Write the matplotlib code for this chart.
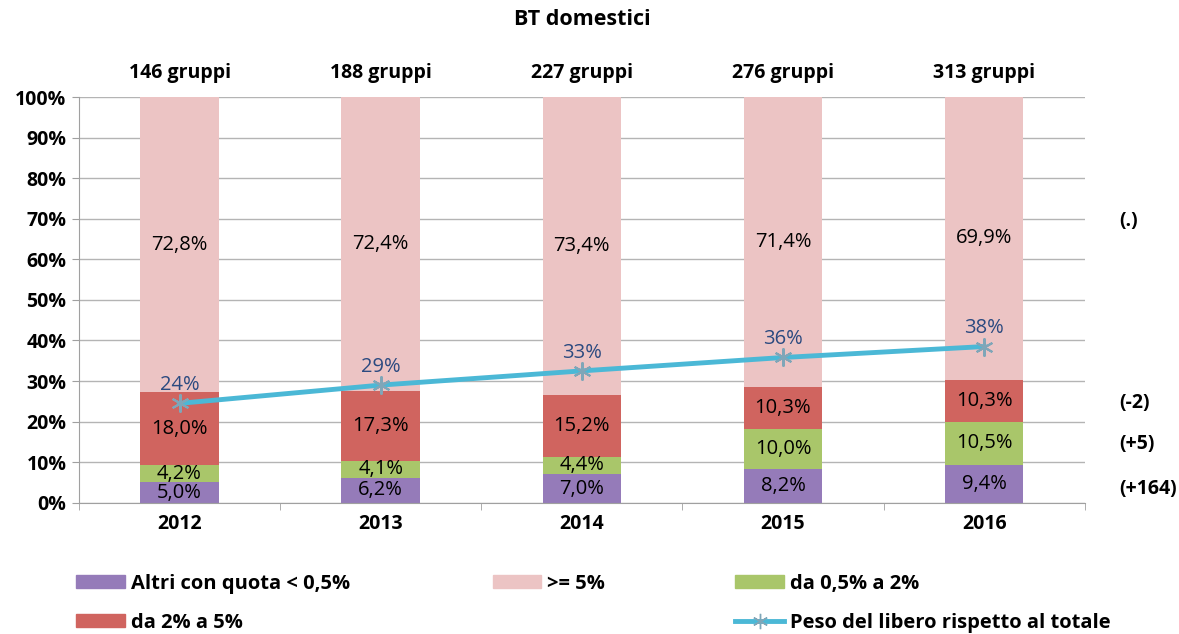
import matplotlib.pyplot as plt
import numpy as np
from matplotlib.lines import Line2D
from matplotlib.patches import Patch
import matplotlib.transforms as mtransforms

plt.rcParams['font.family'] = ['Open Sans', 'DejaVu Sans']

anni = ["2012", "2013", "2014", "2015", "2016"]
gruppi = ["146 gruppi", "188 gruppi", "227 gruppi", "276 gruppi", "313 gruppi"]
altri = [5.0, 6.2, 7.0, 8.2, 9.4]
da05a2 = [4.2, 4.1, 4.4, 10.0, 10.5]
da2a5 = [18.0, 17.3, 15.2, 10.3, 10.3]
oltre5 = [72.8, 72.4, 73.4, 71.4, 69.9]
peso_libero = [24.5, 29.0, 32.5, 35.8, 38.5]
peso_label = ["24%", "29%", "33%", "36%", "38%"]
variazioni = ["(.)", "(-2)", "(+5)", "(+164)"]
variazioni_y = [69.5, 24.5, 14.5, 3.5]

c_altri = "#957BB9"
c_verde = "#A9C66A"
c_rosso = "#D0645F"
c_rosa = "#ECC4C4"
c_linea = "#4BB8D6"

fig = plt.figure(figsize=(11.79, 6.34), dpi=100)
ax = fig.add_axes([0.067, 0.207, 0.853, 0.64])

x = np.arange(len(anni))
w = 0.39
serie = [(altri, c_altri), (da05a2, c_verde), (da2a5, c_rosso), (oltre5, c_rosa)]
base = np.zeros(len(anni))
for vals, col in serie:
    vals = np.array(vals)
    ax.bar(x, vals, w, bottom=base, color=col, zorder=2)
    for xi, b, v in zip(x, base, vals):
        ax.text(xi, b + v / 2, f"{v:.1f}%".replace(".", ","), ha="center", va="center",
                fontsize=14.5, color="black", zorder=4)
    base += vals

ax.plot(x, peso_libero, color=c_linea, lw=3.5, marker=(6, 2, 0), markersize=13,
        markeredgecolor="#7FA6B8", markeredgewidth=1.5, zorder=3)
for xi, v, t in zip(x, peso_libero, peso_label):
    ax.text(xi, v + 2.0, t, ha="center", va="bottom", fontsize=14.5, color="#2B4A80", zorder=5)

trans = mtransforms.blended_transform_factory(ax.transData, ax.transAxes)
for xi, g in zip(x, gruppi):
    ax.text(xi, 1.058, g, ha="center", va="center", fontsize=14, fontweight="bold", transform=trans)

for t, yv in zip(variazioni, variazioni_y):
    ax.text(4.67, yv, t, ha="left", va="center", fontsize=14, fontweight="bold")

ax.set_title("BT domestici", fontsize=15.5, fontweight="bold", pad=52)

ax.set_xlim(-0.5, 4.5)
ax.set_ylim(0, 100)
ax.set_yticks(np.arange(0, 101, 10))
ax.set_yticklabels([f"{v}%" for v in range(0, 101, 10)], fontsize=14, fontweight="bold")
ax.set_xticks(x)
ax.set_xticklabels(anni, fontsize=14, fontweight="bold")
ax.set_xticks(np.arange(-0.5, 4.6, 1), minor=True)
ax.tick_params(axis="x", which="major", length=0, pad=8)
ax.tick_params(axis="x", which="minor", length=5, color="#A0A0A0")
ax.tick_params(axis="y", length=5, color="#A0A0A0", pad=4)
ax.yaxis.grid(True, color="#B4B4B4", lw=1, zorder=0)
ax.set_axisbelow(True)
for s in ["top", "right"]:
    ax.spines[s].set_visible(False)
for s in ["left", "bottom"]:
    ax.spines[s].set_color("#A0A0A0")

leg_kw = dict(frameon=False, prop={"weight": "bold", "size": 14.5},
              handlelength=2.4, handleheight=0.6, labelspacing=0.95, handletextpad=0.3,
              loc="upper left", borderaxespad=0)
h_altri = Patch(color=c_altri)
h_rosso = Patch(color=c_rosso)
h_rosa = Patch(color=c_rosa)
h_verde = Patch(color=c_verde)
h_linea = Line2D([], [], color=c_linea, lw=3.5, marker=(6, 2, 0), markersize=11,
                 markeredgecolor="#7FA6B8")
fig.legend([h_altri, h_rosso], ["Altri con quota < 0,5%", "da 2% a 5%"],
           bbox_to_anchor=(0.058, 0.108), **leg_kw)
fig.legend([h_rosa], [">= 5%"], bbox_to_anchor=(0.411, 0.108), **leg_kw)
fig.legend([h_verde, h_linea], ["da 0,5% a 2%", "Peso del libero rispetto al totale"],
           bbox_to_anchor=(0.617, 0.108), **leg_kw)

fig.savefig("out.png", dpi=100)
